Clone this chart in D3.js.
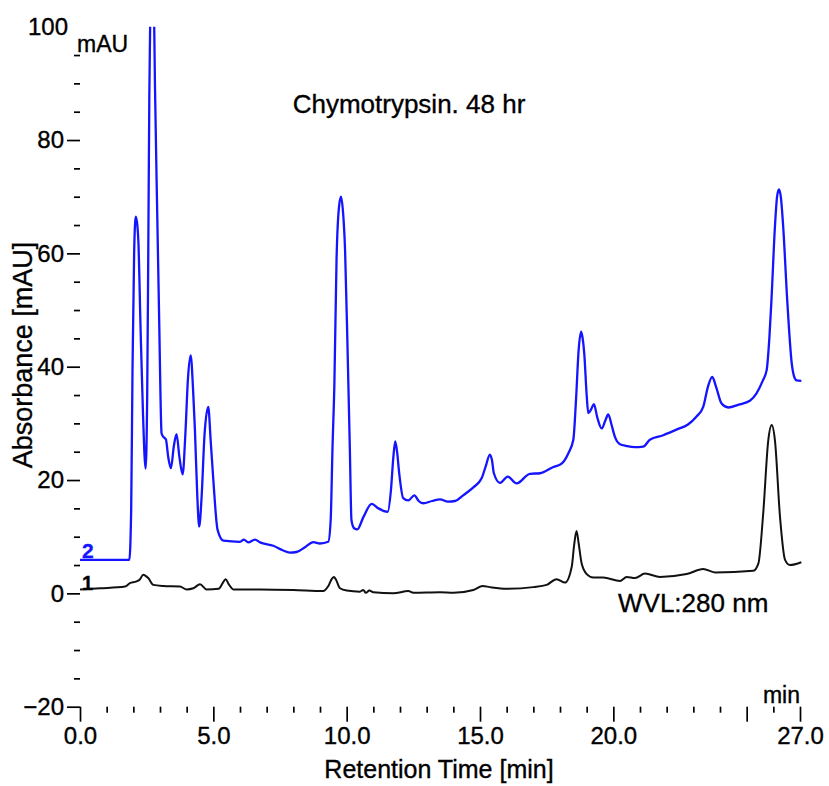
<!DOCTYPE html>
<html>
<head>
<meta charset="utf-8">
<script src="https://cdn.jsdelivr.net/npm/d3@7"></script>
<style>
  html, body { margin: 0; padding: 0; background: #fff; }
  svg { display: block; font-family: "Liberation Sans", Arial, sans-serif; }
  svg text { stroke-width: 0.35px; }
</style>
</head>
<body>
<svg id="chart" width="829" height="786"></svg>
<script>
// ---- Data ----
const trace2Time = [0.0, 1.85, 1.92, 1.97, 2.03, 2.09, 2.15, 2.19, 2.27, 2.36, 2.46, 2.52, 2.56, 2.60, 2.65, 2.70, 2.76, 2.81, 2.90, 2.97,
  3.06, 3.13, 3.22, 3.31, 3.41, 3.52, 3.62, 3.73, 3.85, 3.95, 4.05, 4.15, 4.24, 4.31, 4.40, 4.47, 4.56, 4.67, 4.81, 4.90,
  5.00, 5.16, 5.38, 6.00, 6.15, 6.31, 6.56, 6.75, 7.25, 7.60, 7.87, 8.12, 8.45, 8.75, 9.00, 9.31, 9.40, 9.47, 9.54, 9.62,
  9.72, 9.79, 9.86, 9.94, 10.04, 10.12, 10.18, 10.28, 10.40, 10.63, 10.94, 11.19, 11.54, 11.66, 11.75, 11.82, 11.89, 11.97, 12.12, 12.31,
  12.54, 12.70, 12.87, 13.20, 13.50, 13.80, 14.06, 14.37, 14.75, 15.06, 15.22, 15.37, 15.45, 15.52, 15.75, 16.04, 16.37, 16.87, 17.25, 17.75,
  18.06, 18.31, 18.50, 18.60, 18.70, 18.79, 18.85, 18.91, 19.00, 19.06, 19.17, 19.27, 19.40, 19.56, 19.70, 19.81, 19.93, 20.06, 20.25, 20.50,
  20.80, 21.12, 21.37, 21.87, 22.37, 22.80, 23.12, 23.37, 23.55, 23.71, 23.85, 24.06, 24.31, 24.70, 25.12, 25.37, 25.60, 25.75, 25.85, 25.93,
  26.06, 26.14, 26.21, 26.28, 26.37, 26.52, 26.69, 26.80, 26.87, 27.05];
const trace2Abs = [5.9, 5.9, 15, 40, 60, 66.5, 65, 62, 47, 32, 22.0, 35, 60, 88, 108, 114, 108, 90, 66, 48,
  28.2, 27.6, 27.2, 24, 22.1, 26, 28.1, 24, 21.0, 28, 38, 42.0, 36, 28.8, 17, 11.8, 17, 28, 32.9, 27,
  20, 11.2, 9.3, 9.1, 9.5, 9.0, 9.5, 9.0, 8.4, 7.6, 7.2, 7.3, 8.2, 9.05, 8.8, 9.1, 12.9, 25.9, 37.1, 58.8,
  68.5, 70.0, 67.5, 60.6, 41.8, 25.3, 12.9, 11.5, 11.3, 13.5, 15.8, 15.0, 14.4, 18.2, 24, 26.8, 25, 21.2, 16.8, 16.4,
  17.3, 16.3, 15.9, 16.3, 16.6, 16.2, 16.3, 17.3, 18.7, 20.3, 22.5, 24.5, 23.5, 21.2, 19.5, 20.6, 19.4, 21.1, 21.2, 22.3,
  22.9, 24.7, 27.1, 34.1, 43, 46.2, 45, 42.3, 35, 31.8, 32.5, 33.4, 31, 29.1, 30.5, 31.6, 29.8, 27.6, 26.3, 26.0,
  25.8, 25.9, 27.1, 27.9, 28.9, 29.8, 31.2, 32.9, 36.5, 38.2, 36.5, 33.5, 32.8, 33.3, 34.0, 35.3, 37.5, 39.4, 45, 51.8,
  64.7, 70, 71.3, 70, 64.7, 51.8, 40.6, 38, 37.6, 37.5];

const trace1Time = [0.0, 0.75, 1.69, 1.87, 2.12, 2.25, 2.37, 2.46, 2.56, 2.75, 3.12, 3.75, 4.00, 4.25, 4.50, 4.75, 5.20, 5.35, 5.46, 5.58,
  5.75, 6.75, 8.00, 9.12, 9.30, 9.45, 9.52, 9.60, 9.75, 10.00, 10.50, 10.62, 10.72, 10.85, 11.00, 11.75, 12.31, 12.50, 13.50, 14.00,
  14.75, 15.10, 15.37, 16.00, 17.00, 17.50, 17.87, 18.19, 18.44, 18.53, 18.62, 18.70, 18.81, 19.00, 19.25, 19.62, 20.25, 20.50, 20.81, 21.19,
  21.75, 22.75, 23.37, 23.81, 25.25, 25.44, 25.62, 25.81, 25.94, 26.06, 26.25, 26.44, 26.62, 27.05];
const trace1Abs = [0.7, 0.9, 1.2, 1.8, 2.1, 2.5, 3.3, 3.1, 2.7, 1.5, 1.3, 1.2, 0.7, 0.9, 1.6, 0.7, 0.8, 1.8, 2.5, 1.6,
  0.7, 0.7, 0.6, 0.4, 1.2, 2.6, 2.9, 2.4, 0.9, 0.5, 0.3, 0.6, 0.1, 0.5, 0.2, 0.0, 0.4, 0.1, 0.2, 0.1,
  0.6, 1.3, 1.1, 0.8, 1.1, 1.5, 2.5, 1.9, 4.7, 8.5, 11.0, 8.8, 5.3, 3.4, 2.8, 2.8, 2.2, 2.9, 2.7, 3.5,
  2.9, 3.4, 4.3, 3.7, 4.0, 5.3, 14.1, 27.0, 29.7, 27.0, 13.5, 5.9, 5.0, 5.5];

const xMajorTicks = [0, 5, 10, 15, 20, 25, 27];
const xTickLabels = ["0.0", "5.0", "10.0", "15.0", "20.0", "", "27.0"];
const xMinorTicks = [1, 2, 3, 4, 6, 7, 8, 9, 11, 12, 13, 14, 16, 17, 18, 19, 21, 22, 23, 24, 26];
const yMajorTicks = [-20, 0, 20, 40, 60, 80];
const yMinorTicks = [-15, -10, -5, 5, 10, 15, 25, 30, 35, 45, 50, 55, 65, 70, 75, 85, 90, 95];
const yTopLabel = [100];

// ---- Layout ----
const svg = d3.select("#chart");
const plotLeft = 80, plotRight = 800, plotTop = 26.7, plotBottom = 706.7;
const x = d3.scaleLinear().domain([0, 27]).range([plotLeft, plotRight]);
const y = d3.scaleLinear().domain([-20, 100]).range([plotBottom, plotTop]);

svg.append("defs").append("clipPath").attr("id", "plotclip")
  .append("rect").attr("x", plotLeft - 2).attr("y", plotTop)
  .attr("width", plotRight - plotLeft + 6).attr("height", plotBottom - plotTop);

// ---- Axes ----
function styleAxis(g) {
  g.select(".domain").remove();
  g.selectAll("line").attr("stroke", "#000").attr("stroke-width", 1.7);
  g.selectAll("text").attr("fill", "#000").attr("stroke", "#000").style("font-size", "24px")
    .style("font-family", "'Liberation Sans', Arial, sans-serif");
}

svg.append("g").attr("transform", `translate(${plotLeft},0)`)
  .call(d3.axisLeft(y).tickValues(yMajorTicks).tickSize(13).tickPadding(3).tickFormat(d3.format("d")))
  .call(styleAxis);
svg.append("g").attr("transform", `translate(${plotLeft},0)`)
  .call(d3.axisLeft(y).tickValues(yMinorTicks).tickSize(6).tickFormat(""))
  .call(styleAxis);
svg.append("g").attr("transform", `translate(${plotLeft},0)`)
  .call(d3.axisLeft(y).tickValues(yTopLabel).tickSize(0).tickPadding(12).tickFormat(d3.format("d")))
  .call(styleAxis);

svg.append("g").attr("transform", `translate(0,${plotBottom})`)
  .call(d3.axisBottom(x).tickValues(xMajorTicks).tickSize(15).tickPadding(5)
    .tickFormat((d, i) => xTickLabels[i]))
  .call(styleAxis);
svg.append("g").attr("transform", `translate(0,${plotBottom})`)
  .call(d3.axisBottom(x).tickValues(xMinorTicks).tickSize(6).tickFormat(""))
  .call(styleAxis);

// ---- Traces ----
const line = d3.line().x(d => x(d[0])).y(d => y(d[1])).curve(d3.curveMonotoneX);
const plot = svg.append("g").attr("clip-path", "url(#plotclip)");
plot.append("path").datum(d3.zip(trace1Time, trace1Abs))
  .attr("d", line).attr("fill", "none").attr("stroke", "#111").attr("stroke-width", 2)
  .attr("stroke-linejoin", "round");
plot.append("path").datum(d3.zip(trace2Time, trace2Abs))
  .attr("d", line).attr("fill", "none").attr("stroke", "#1414ff").attr("stroke-width", 2.3)
  .attr("stroke-linejoin", "round");

// ---- Text ----
const txt = (s, xp, yp, size, opts = {}) => svg.append("text").attr("x", xp).attr("y", yp)
  .style("font-size", size + "px").attr("fill", opts.fill || "#000").attr("stroke", opts.fill || "#000")
  .attr("text-anchor", opts.anchor || "start").attr("font-weight", opts.weight || "normal").text(s);

txt("mAU", 77, 52, 23);
txt("min", 800, 703, 23, { anchor: "end" });
txt("Chymotrypsin. 48 hr", 409, 113, 26, { anchor: "middle" });
txt("WVL:280 nm", 618, 612, 26);
txt("Retention Time [min]", 439, 778, 25, { anchor: "middle" });
svg.append("text").attr("transform", "translate(32,355) rotate(-90)")
  .attr("text-anchor", "middle").attr("fill", "#000").attr("stroke", "#000")
  .style("font-size", "27px").text("Absorbance [mAU]");
txt("2", 82, 558, 21, { fill: "#1414ff", weight: "bold" });
txt("1", 82, 590, 20, { weight: "bold" });
</script>
</body>
</html>
